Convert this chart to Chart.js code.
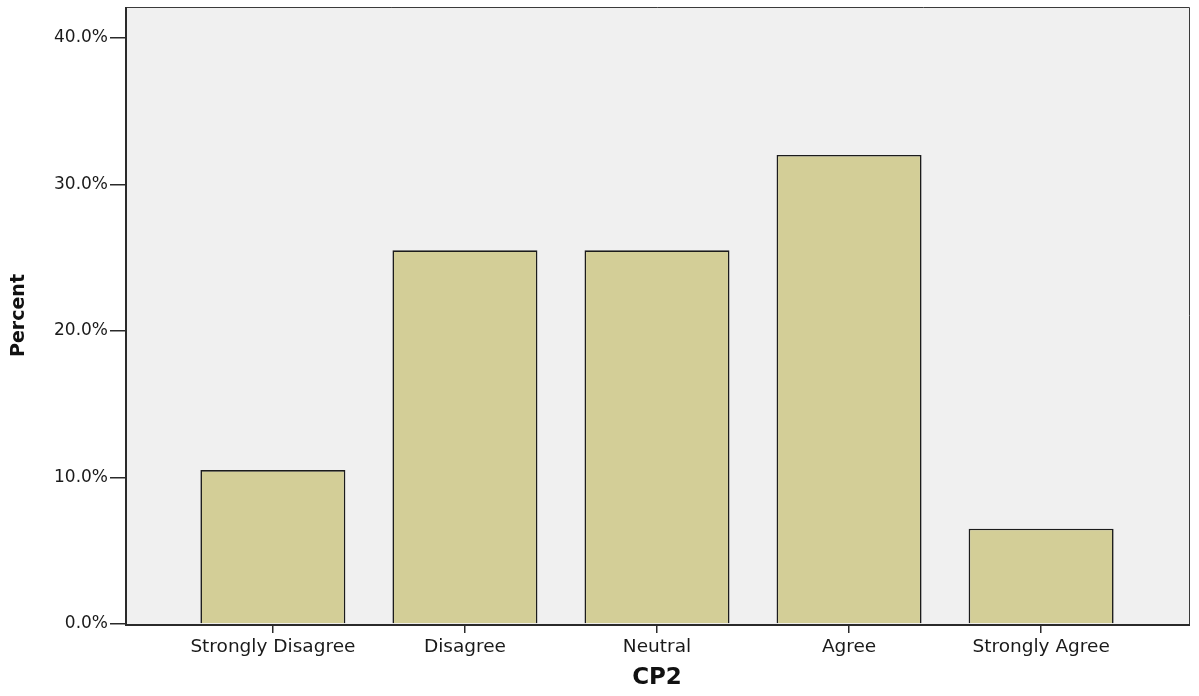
<!DOCTYPE html>
<html>
<head>
<meta charset="utf-8">
<title>CP2</title>
<script src="https://cdn.jsdelivr.net/npm/chart.js@4.4.1/dist/chart.umd.min.js"></script>
<style>
  body { margin: 0; background: #ffffff; }
  canvas { display: block; }
</style>
</head>
<body>
<canvas id="grafica" width="1199" height="696"></canvas>
<script>
//data
var categorias = [ 'Strongly Disagree', 'Disagree', 'Neutral', 'Agree', 'Strongly Agree' ];
var porcentajes = [ 10.5, 25.5, 25.5, 32.0, 6.5 ];
var ticksY = [ 0, 10, 20, 30, 40 ];

var fuente = 'DejaVu Sans';

//plot background + frame
var marcoPlugin =
{
  id: 'marco',
  beforeDraw: function( chart )
  {
    var ctx = chart.ctx;
    var a = chart.chartArea;
    ctx.save( );
    ctx.fillStyle = '#f0f0f0';
    ctx.fillRect( a.left, a.top, a.right - a.left, a.bottom - a.top );
    ctx.restore( );
  },
  afterDatasetsDraw: function( chart )
  {
    var ctx = chart.ctx;
    var a = chart.chartArea;
    ctx.save( );
    ctx.strokeStyle = '#3a3a3a';
    ctx.lineWidth = 1;
    ctx.beginPath( );
    ctx.moveTo( a.left, a.top + 0.5 );
    ctx.lineTo( a.right + 0.5, a.top + 0.5 );
    ctx.lineTo( a.right + 0.5, a.bottom );
    ctx.stroke( );
    ctx.strokeStyle = '#2a2a2a';
    ctx.lineWidth = 2;
    ctx.beginPath( );
    ctx.moveTo( a.left + 1, a.top );
    ctx.lineTo( a.left + 1, a.bottom + 1 );
    ctx.lineTo( a.right + 1, a.bottom + 1 );
    ctx.stroke( );
    ctx.restore( );
  }
};

var puntos = porcentajes.map( ( v, i ) => ({ x: i, y: v }) );

var grafica = new Chart( document.getElementById( 'grafica' ).getContext( '2d' ),
{
  type: 'bar',
  data:
  {
    datasets:
    [
      {
        data: puntos,
        backgroundColor: '#d3ce97',
        borderColor: '#1c1c1c',
        borderWidth: 1.6,
        categoryPercentage: 1,
        barPercentage: 0.755
      }
    ]
  },
  options:
  {
    responsive: false,
    animation: false,
    layout: { padding: { top: 7, right: 10, left: 0, bottom: 0 } },
    plugins: { legend: { display: false }, tooltip: { enabled: false } },
    scales:
    {
      x:
      {
        type: 'linear',
        offset: false,
        min: -0.77,
        max: 4.77,
        afterBuildTicks: function( scale ) { scale.ticks = categorias.map( ( c, i ) => ({ value: i }) ); },
        afterFit: function( scale ) { scale.height = 72; scale.paddingLeft = 0; scale.paddingRight = 0; },
        grid: { offset: false, drawOnChartArea: false, tickLength: 9, color: '#2a2a2a', lineWidth: 1.5 },
        border: { display: false },
        ticks:
        {
          autoSkip: false,
          maxRotation: 0,
          padding: 3,
          color: '#1a1a1a',
          font: { family: fuente, size: 18.5 },
          callback: function( v ) { return categorias[ v ]; }
        },
        title:
        {
          display: true,
          text: 'CP2',
          color: '#111111',
          font: { family: fuente, size: 23, weight: 'bold' },
          padding: { top: 0, bottom: 4 }
        }
      },
      y:
      {
        min: 0,
        max: 42.1,
        afterBuildTicks: function( scale ) { scale.ticks = ticksY.map( v => ({ value: v }) ); },
        afterFit: function( scale ) { scale.width = 125; scale.paddingTop = 0; scale.paddingBottom = 0; },
        grid: { drawOnChartArea: false, tickLength: 15, color: '#2a2a2a', lineWidth: 1.5 },
        border: { display: false },
        ticks:
        {
          padding: 2,
          color: '#1a1a1a',
          font: { family: fuente, size: 17 },
          callback: function( v ) { return v.toFixed( 1 ) + '%'; }
        },
        title:
        {
          display: true,
          text: 'Percent',
          color: '#111111',
          font: { family: fuente, size: 19, weight: 'bold' },
          padding: { top: 8, bottom: 0 }
        }
      }
    }
  },
  plugins: [ marcoPlugin ]
});
</script>
</body>
</html>
